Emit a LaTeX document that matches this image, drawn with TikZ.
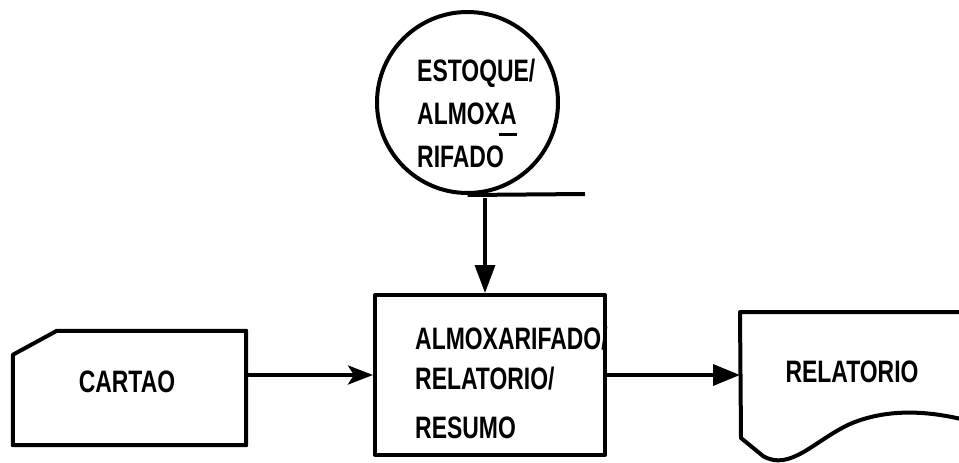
\documentclass[tikz,border=0pt]{standalone}
\usepackage{fontspec}
\setmainfont{Liberation Sans}[FakeStretch=0.74]
\usetikzlibrary{arrows.meta}
\tikzset{
  shapeline/.style={line width=4pt, line join=round},
  conn/.style={line width=3.4pt},
  lbl/.style={font=\bfseries\fontsize{31}{43}\selectfont, inner sep=0pt},
}
\begin{document}
\begin{tikzpicture}[x=1pt,y=-1pt]
\useasboundingbox (0,0) rectangle (959,463);
% storage circle
\node[circle, draw, shapeline, minimum size=181pt, inner sep=0pt] (circ) at (467.5,102.5) {};
\node[lbl, align=left, anchor=north west] (circtext) at (417,59)
  {ESTOQUE/\\ALMOXA\llap{\smash{\raisebox{-11pt}{\rule{18pt}{2.5pt}}}}\\RIFADO};
\coordinate (tanend) at (585,194);
\draw[shapeline] (circ.south) -- (tanend);
\coordinate (drop) at (485,198);
% process box
\node[draw, shapeline, minimum width=230pt, minimum height=160pt, inner sep=0pt] (box) at (490,375) {};
\node[lbl, align=left, anchor=north west, font=\bfseries\fontsize{31}{40}\selectfont] (boxtext) at (415,327)
  {ALMOXARIFADO/\\RELATORIO/\\[9pt]RESUMO};
% card
\node[minimum width=233pt, minimum height=114pt, inner sep=0pt] (card) at (129.5,388) {};
\draw[shapeline] (card.north east) -- ([xshift=44pt]card.north west) -- ([yshift=-24pt]card.north west)
  -- (card.south west) -- (card.south east) -- cycle;
\node[lbl] (cardtext) at (127,382) {CARTAO};
% document
\node[minimum width=240pt, minimum height=150pt, inner sep=0pt, anchor=north west] (doc) at (740,312) {};
\draw[shapeline] (doc.north east) -- (doc.north west) -- (741,438) -- (763,456)
  .. controls (790,472) and (815,440) .. (850,424)
  .. controls (885,409) and (925,410) .. (965,420);
\node[lbl] (doctext) at (852,372) {RELATORIO};
% connectors
\draw[conn, -{Triangle[length=28pt,width=20pt]}] (drop) -- (drop |- box.north);
\draw[conn, line width=4pt, -{Stealth[length=25pt,width=19pt,inset=6pt]}] (box.west -| card.east) -- (box.west);
\draw[conn, -{Triangle[length=27pt,width=21pt]}] (box.east) -- (box.east -| doc.west);
\end{tikzpicture}
\end{document}
